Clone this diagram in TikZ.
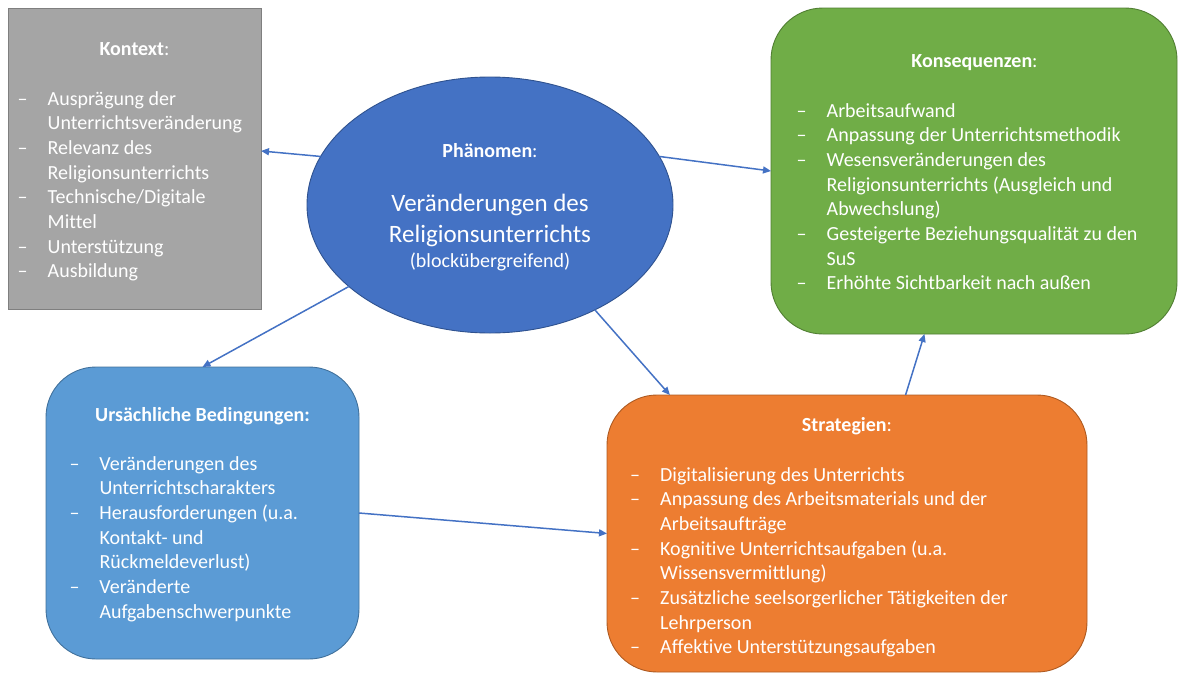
\documentclass[tikz,border=0pt]{standalone}
\usepackage{fontspec}
\setmainfont{Carlito}[Ligatures=NoCommon]
\usetikzlibrary{arrows.meta,calc,shapes.geometric}

\definecolor{ctxfill}{HTML}{A5A5A5}
\definecolor{ctxline}{HTML}{7F7F7F}
\definecolor{phfill}{HTML}{4472C4}
\definecolor{phline}{HTML}{2F528F}
\definecolor{konfill}{HTML}{70AD47}
\definecolor{konline}{HTML}{507E32}
\definecolor{ursfill}{HTML}{5B9BD5}
\definecolor{ursline}{HTML}{41719C}
\definecolor{strfill}{HTML}{ED7D31}
\definecolor{strline}{HTML}{AE5A21}
\definecolor{arrcol}{HTML}{4472C4}

% en dash hanging 30pt to the left of an item
\newcommand{\itemdash}{\llap{\makebox[30pt][l]{–}}}

\tikzset{
  panel/.style={inner sep=0pt, outer sep=0pt, line width=0.9pt},
  title/.style={anchor=base, text=white, inner sep=0pt, font=\fontsize{20}{24.7}\selectfont\bfseries},
  % multi-line lists are anchored at the baseline of their last line
  listing/.style={anchor=base west, text=white, inner sep=0pt, align=left, font=\fontsize{20}{24.7}\selectfont},
  arr/.style={draw=arrcol, line width=1.5pt, -{Triangle[length=8pt,width=7pt]}}
}

\begin{document}
\begin{tikzpicture}[x=1pt,y=-1pt]
\useasboundingbox (0,0) rectangle (1178,675);

% boxes
\node[panel, draw=ctxline, fill=ctxfill, rectangle, minimum width=253pt, minimum height=301pt, anchor=north west] (ctx) at (8,8) {};
\node[panel, draw=konline, fill=konfill, rectangle, rounded corners=52pt, minimum width=406pt, minimum height=326pt, anchor=north west] (kon) at (771,8) {};
\node[panel, draw=ursline, fill=ursfill, rectangle, rounded corners=50pt, minimum width=313pt, minimum height=292pt, anchor=north west] (urs) at (46,367) {};
\node[panel, draw=strline, fill=strfill, rectangle, rounded corners=50pt, minimum width=480pt, minimum height=277pt, anchor=north west] (str) at (607,395) {};
\node[panel, draw=phline, fill=phfill, ellipse, minimum width=366pt, minimum height=256pt] (ph) at (490,205) {};

% Kontext
\node[title] (ctxt) at (134.5,55) {Kontext\mdseries:};
\node[listing] (ctxl) at (47.5,277.9) {\itemdash Ausprägung der\\
Unterrichtsveränderung\\
\itemdash Relevanz des\\
Religionsunterrichts\\
\itemdash Technische/Digitale\\
Mittel\\
\itemdash Unterstützung\\
\itemdash Ausbildung};

% Phaenomen
\node[title] (pht) at (490,157) {Phänomen\mdseries:};
\node[anchor=base, text=white, inner sep=0pt, font=\fontsize{25}{31}\selectfont] (ph1) at (490,211) {Veränderungen des};
\node[anchor=base, text=white, inner sep=0pt, font=\fontsize{25}{31}\selectfont] (ph2) at (490,242) {Religionsunterrichts};
\node[anchor=base, text=white, inner sep=0pt, font=\fontsize{20}{24}\selectfont] (ph3) at (490,267) {(blockübergreifend)};

% Konsequenzen
\node[title] (kont) at (974.5,67) {Konsequenzen\mdseries:};
\node[listing] (konl) at (826.5,289.9) {\itemdash Arbeitsaufwand\\
\itemdash Anpassung der Unterrichtsmethodik\\
\itemdash Wesensveränderungen des\\
Religionsunterrichts (Ausgleich und\\
Abwechslung)\\
\itemdash Gesteigerte Beziehungsqualität zu den\\
SuS\\
\itemdash Erhöhte Sichtbarkeit nach außen};

% Ursaechliche Bedingungen
\node[title] (urst) at (202.5,421) {Ursächliche Bedingungen:};
\node[listing] (ursl) at (99.3,618.2) {\itemdash Veränderungen des\\
Unterrichtscharakters\\
\itemdash Herausforderungen (u.a.\\
Kontakt- und\\
Rückmeldeverlust)\\
\itemdash Veränderte\\
Aufgabenschwerpunkte};

% Strategien
\node[title] (strt) at (847,431) {Strategien\mdseries:};
\node[listing] (strl) at (660,653.9) {\itemdash Digitalisierung des Unterrichts\\
\itemdash Anpassung des Arbeitsmaterials und der\\
Arbeitsaufträge\\
\itemdash Kognitive Unterrichtsaufgaben (u.a.\\
Wissensvermittlung)\\
\itemdash Zusätzliche seelsorgerlicher Tätigkeiten der\\
Lehrperson\\
\itemdash Affektive Unterstützungsaufgaben};

% connectors
\draw[arr] (ph.164) -- ($(ctx.north east)!0.475!(ctx.south east)$);
\draw[arr] (ph.16.5) -- (kon.west);
\draw[arr] (ph.210) -- (urs.north);
\draw[arr] (ph.-45) -- ($(str.north west)!0.131!(str.north east)$);
\draw[arr] (urs.east) -- (str.west);
\draw[arr] ($(str.north west)!0.622!(str.north east)$) -- ($(kon.south west)!0.378!(kon.south east)$);
\end{tikzpicture}
\end{document}
